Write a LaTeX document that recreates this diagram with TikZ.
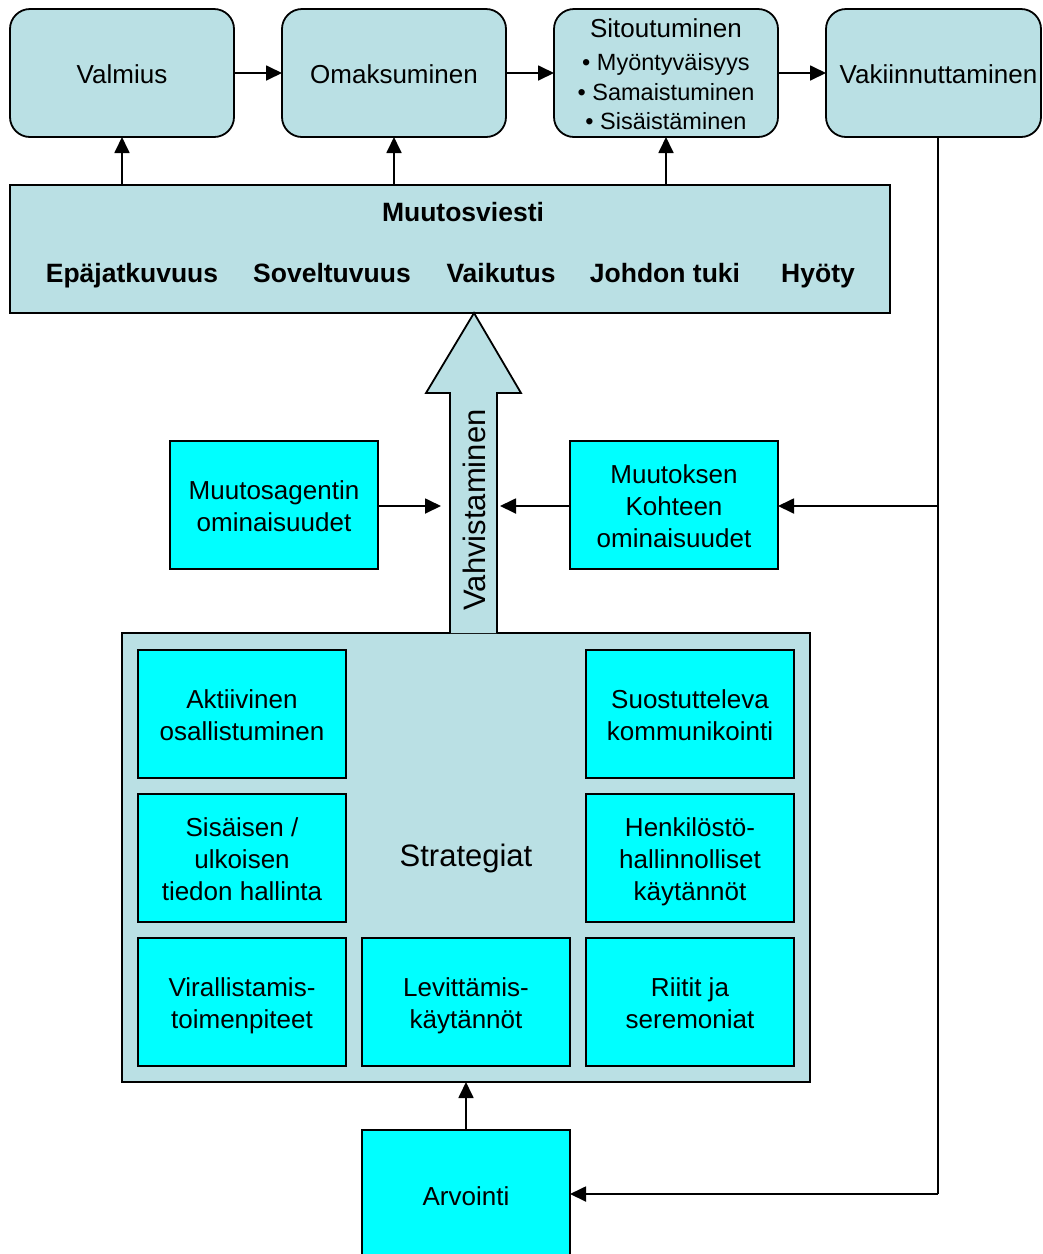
\documentclass[tikz,border=0pt]{standalone}
\usepackage{fontspec}
\setmainfont{Liberation Sans}
\usetikzlibrary{arrows.meta}
\definecolor{lblue}{RGB}{186,224,228}
\definecolor{cyanbox}{RGB}{0,255,255}
\newcommand\bst{\rule[-6pt]{0pt}{32pt}}
\newcommand\sst{\rule[-4pt]{0pt}{29pt}}
\begin{document}
\begin{tikzpicture}[x=1pt,y=-1pt,
  every node/.style={inner sep=0pt, outer sep=0pt},
  lw/.style={line width=1.8pt},
  rbox/.style={draw, lw, fill=lblue, rounded corners=20pt, minimum width=224pt, minimum height=128pt, align=center, font=\fontsize{26}{32}\selectfont},
  cbox/.style={draw, lw, fill=cyanbox, minimum width=208pt, minimum height=128pt, align=center, font=\fontsize{26}{32}\selectfont},
  arr/.style={lw, -{Triangle[length=16pt,width=15pt]}},
  btxt/.style={anchor=base, font=\bfseries\fontsize{26.5}{30}\selectfont}
]
\useasboundingbox[fill=white] (0,0) rectangle (1043,1254);

% top row
\node[rbox] (valm) at (122,73) {\bst Valmius};
\node[rbox] (omak) at (394,73) {\bst Omaksuminen};
\node[rbox, font=\fontsize{23.5}{29}\selectfont] (sito) at (666,73)
  {\sst{\fontsize{26}{29}\selectfont Sitoutuminen}\\[4pt]\sst • Myöntyväisyys\\\sst • Samaistuminen\\\sst • Sisäistäminen};
\node[rbox, minimum width=215pt] (vaki) at (933.5,73) {\hspace*{10pt}\bst Vakiinnuttaminen};
\draw[arr] (valm) -- (omak);
\draw[arr] (omak) -- (sito);
\draw[arr] (sito) -- (vaki);

% Muutosviesti
\node[draw, lw, fill=lblue, minimum width=880pt, minimum height=128pt] (mv) at (450,249) {};
\node[btxt] (mvt) at (463,221) {Muutosviesti};
\node[btxt] (m1) at (132,282) {Epäjatkuvuus};
\node[btxt] (m2) at (332,282) {Soveltuvuus};
\node[btxt] (m3) at (501,282) {Vaikutus};
\node[btxt] (m4) at (665,282) {Johdon tuki};
\node[btxt] (m5) at (818,282) {Hyöty};
\draw[arr] (mv.north -| valm) -- (valm.south);
\draw[arr] (mv.north -| omak) -- (omak.south);
\draw[arr] (mv.north -| sito) -- (sito.south);

% Strategiat
\node[draw, lw, fill=lblue, minimum width=688pt, minimum height=449pt, font=\fontsize{31}{36}\selectfont] (strat) at (466,857.5) {\rule[-7pt]{0pt}{31pt}Strategiat};
\node[cbox] (s1) at (242,714) {\bst Aktiivinen\\\bst osallistuminen};
\node[cbox] (s2) at (690,714) {\bst Suostutteleva\\\bst kommunikointi};
\node[cbox] (s3) at (242,858) {\bst Sisäisen /\\\bst ulkoisen\\\bst tiedon hallinta};
\node[cbox] (s4) at (690,858) {\bst Henkilöstö-\\\bst hallinnolliset\\\bst käytännöt};
\node[cbox] (s5) at (242,1002) {\bst Virallistamis-\\\bst toimenpiteet};
\node[cbox] (s6) at (466,1002) {\bst Levittämis-\\\bst käytännöt};
\node[cbox] (s7) at (690,1002) {\bst Riitit ja\\\bst seremoniat};

% big arrow
\draw[lw, fill=lblue] (450,633) -- (450,393) -- (426,393) -- (474,313) -- (521,393) -- (497,393) -- (497,633);
\node[rotate=90, font=\fontsize{31}{36}\selectfont] (vahv) at (474,510) {Vahvistaminen};
\coordinate (vL) at (441,506);
\coordinate (vR) at (500,506);

% side boxes
\node[cbox] (agent) at (274,505) {\bst Muutosagentin\\\bst ominaisuudet};
\node[cbox] (kohde) at (674,505) {\bst Muutoksen\\\bst Kohteen\\\bst ominaisuudet};
\draw[arr] (agent.east |- vL) -- (vL);
\draw[arr] (kohde.west |- vR) -- (vR);

% Arviointi
\node[cbox, minimum height=130pt] (arv) at (466,1195) {\bst Arvointi};
\draw[arr] (arv.north) -- (strat.south);

% feedback line
\coordinate (cM) at (938,506);
\coordinate (cB) at (938,1194);
\draw[lw] (vaki.south -| cM) -- (cB);
\draw[arr] (cB) -- (arv.east |- cB);
\draw[arr] (cM) -- (kohde.east |- cM);
\end{tikzpicture}
\end{document}
